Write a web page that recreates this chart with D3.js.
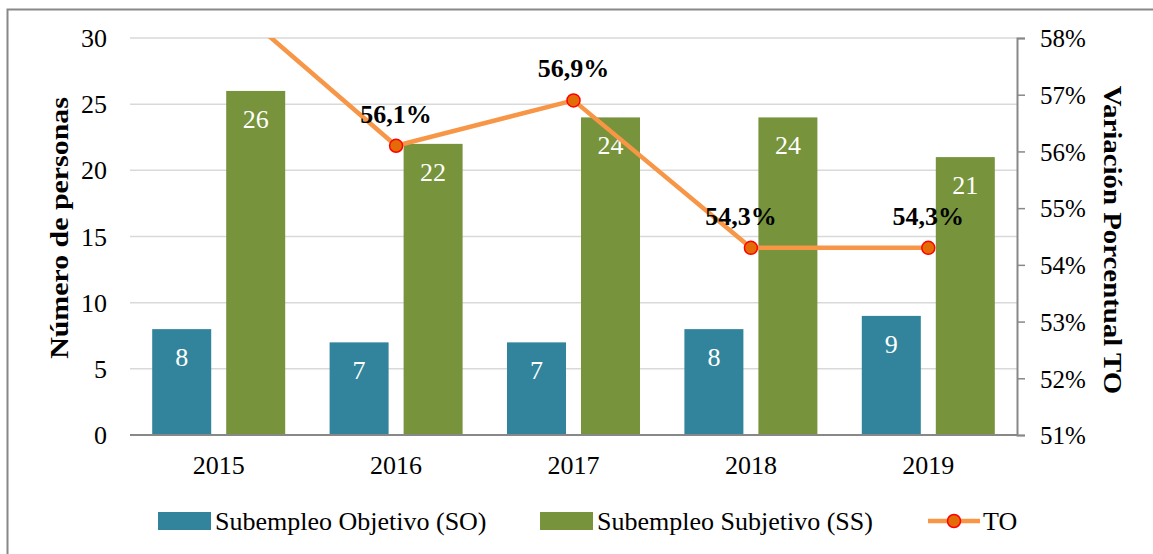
<!DOCTYPE html>
<html>
<head>
<meta charset="utf-8">
<script src="https://cdn.jsdelivr.net/npm/d3@7"></script>
<style>
  body { margin:0; background:#fff; }
  text { font-family: "Liberation Serif", "Times New Roman", serif; }
</style>
</head>
<body>
<div id="chart"></div>
<script>
var years = ["2015", "2016", "2017", "2018", "2019"];
var so = [8, 7, 7, 8, 9];
var ss = [26, 22, 24, 24, 21];
var to = [58.8, 56.1, 56.9, 54.3, 54.3];
var toLabels = ["58,8%", "56,1%", "56,9%", "54,3%", "54,3%"];
var leftTicks = [0, 5, 10, 15, 20, 25, 30];
var rightTicks = [51, 52, 53, 54, 55, 56, 57, 58];

var W = 1153, H = 554;
var pL = 130, pR = 1017, pT = 38, pB = 435;
var fs = 26;

var svg = d3.select("#chart").append("svg")
    .attr("width", W).attr("height", H);

// outer frame (only top + left visible in the reference)
svg.append("rect").attr("x", 7.5).attr("y", 9.5)
    .attr("width", W + 20).attr("height", H + 20)
    .attr("fill", "none").attr("stroke", "#888").attr("stroke-width", 2);

var x = d3.scaleBand().domain(years).range([pL, pR]);
var yL = d3.scaleLinear().domain([0, 30]).range([pB, pT]);
var yR = d3.scaleLinear().domain([51, 58]).range([pB, pT]);

var barW = 59, off = 37;
var cx = (d, i) => x(years[i]) + x.bandwidth() / 2;

// gridlines
svg.append("g").selectAll("line").data(leftTicks.filter(d => d > 0)).join("line")
    .attr("x1", pL).attr("x2", pR)
    .attr("y1", d => yL(d)).attr("y2", d => yL(d))
    .attr("stroke", "#d9d9d9").attr("stroke-width", 1.5);

// left tick labels
svg.append("g").selectAll("text").data(leftTicks).join("text")
    .attr("x", 107).attr("y", d => yL(d) + 9)
    .attr("text-anchor", "end").attr("font-size", fs).attr("fill", "#000")
    .text(d => d);

// bars
svg.append("g").selectAll("rect").data(so).join("rect")
    .attr("x", (d, i) => cx(d, i) - off - barW / 2)
    .attr("y", d => yL(d)).attr("width", barW)
    .attr("height", d => pB - yL(d)).attr("fill", "#31849B");
svg.append("g").selectAll("rect").data(ss).join("rect")
    .attr("x", (d, i) => cx(d, i) + off - barW / 2)
    .attr("y", d => yL(d)).attr("width", barW)
    .attr("height", d => pB - yL(d)).attr("fill", "#77933C");

// bar value labels
svg.append("g").selectAll("text").data(so).join("text")
    .attr("x", (d, i) => cx(d, i) - off)
    .attr("y", d => yL(d) + 37)
    .attr("text-anchor", "middle").attr("font-size", fs).attr("fill", "#fff")
    .text(d => d);
svg.append("g").selectAll("text").data(ss).join("text")
    .attr("x", (d, i) => cx(d, i) + off)
    .attr("y", d => yL(d) + 37)
    .attr("text-anchor", "middle").attr("font-size", fs).attr("fill", "#fff")
    .text(d => d);

// bottom axis line
svg.append("line").attr("x1", pL).attr("x2", pR)
    .attr("y1", pB).attr("y2", pB)
    .attr("stroke", "#888").attr("stroke-width", 2);

// year labels
svg.append("g").selectAll("text").data(years).join("text")
    .attr("x", d => x(d) + x.bandwidth() / 2).attr("y", 474)
    .attr("text-anchor", "middle").attr("font-size", fs).attr("fill", "#000")
    .text(d => d);

// right axis
var rAxis = svg.append("g").attr("transform", "translate(" + pR + ",0)")
    .call(d3.axisRight(yR).tickValues(rightTicks).tickSize(8).tickFormat(d => d + "%"));
rAxis.select(".domain").attr("stroke", "#888").attr("stroke-width", 2);
rAxis.selectAll(".tick line").attr("stroke", "#888").attr("stroke-width", 1.5);
rAxis.selectAll(".tick text").attr("x", 23).attr("dy", "0.35em")
    .attr("font-size", 25).attr("fill", "#000")
    .style("font-family", "'Liberation Serif', 'Times New Roman', serif");

// axis titles (the reference glyphs are a bit taller than wide, so stretch along the text)
svg.append("text").attr("transform", "translate(68,228) rotate(-90) scale(1.15,1)")
    .attr("text-anchor", "middle").attr("font-size", fs).attr("font-weight", "bold")
    .text("Número de personas");
svg.append("text").attr("transform", "translate(1104,240) rotate(90) scale(1.11,1)")
    .attr("text-anchor", "middle").attr("font-size", fs).attr("font-weight", "bold")
    .text("Variación Porcentual TO");

// TO line, clipped at the plot area
svg.append("clipPath").attr("id", "plotclip").append("rect")
    .attr("x", pL).attr("y", pT).attr("width", pR - pL).attr("height", pB - pT);

var g = svg.append("g").attr("clip-path", "url(#plotclip)");
g.append("path").datum(to)
    .attr("fill", "none").attr("stroke", "#F79646").attr("stroke-width", 4.5)
    .attr("d", d3.line().x(cx).y(d => yR(d)));
g.selectAll("circle").data(to).join("circle")
    .attr("cx", cx).attr("cy", d => yR(d)).attr("r", 6.5)
    .attr("fill", "#E36C09").attr("stroke", "#FF0000").attr("stroke-width", 1.5);

// point labels, only for points that fall inside the right axis range
var shown = to.map((d, i) => ({v: d, i: i})).filter(p => p.v <= 58);
svg.append("g").selectAll("text").data(shown).join("text")
    .attr("x", p => cx(p.v, p.i) - (p.i == 3 ? 10 : 0)).attr("y", p => yR(p.v) - 23)
    .attr("text-anchor", "middle").attr("font-size", fs).attr("font-weight", "bold")
    .attr("fill", "#000")
    .text(p => toLabels[p.i]);

// legend
var leg = svg.append("g");
leg.append("rect").attr("x", 158).attr("y", 512).attr("width", 53).attr("height", 18).attr("fill", "#31849B");
leg.append("text").attr("x", 215).attr("y", 530).attr("font-size", fs).text("Subempleo Objetivo (SO)");
leg.append("rect").attr("x", 540).attr("y", 512).attr("width", 53).attr("height", 18).attr("fill", "#77933C");
leg.append("text").attr("x", 597).attr("y", 530).attr("font-size", fs).text("Subempleo Subjetivo (SS)");
leg.append("line").attr("x1", 928).attr("x2", 980).attr("y1", 521).attr("y2", 521)
    .attr("stroke", "#F79646").attr("stroke-width", 4.5);
leg.append("circle").attr("cx", 954).attr("cy", 521).attr("r", 6.5)
    .attr("fill", "#E36C09").attr("stroke", "#FF0000").attr("stroke-width", 1.5);
leg.append("text").attr("x", 983).attr("y", 530).attr("font-size", fs).text("TO");
</script>
</body>
</html>
